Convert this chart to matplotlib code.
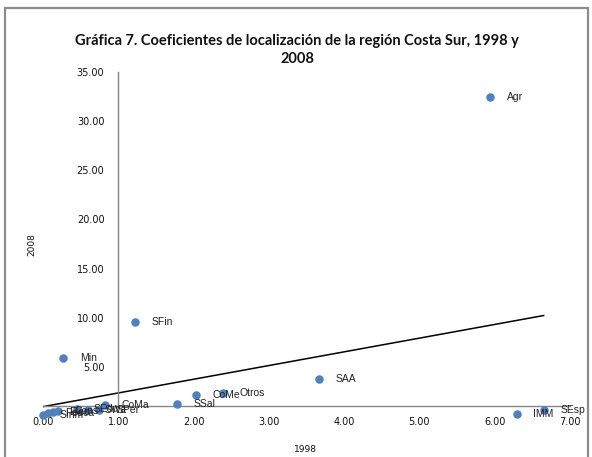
import matplotlib
matplotlib.use("Agg")
import matplotlib.pyplot as plt
from matplotlib.patches import Rectangle
import numpy as np

# location coefficients, Costa Sur region
sectors = ["Agr", "SFin", "Min", "SAA", "Otros", "CoMe", "SSal", "IMM", "SEsp", "CoMa",
           "SInm", "Pesca", "Elec", "Cons", "SEdu", "SWa", "SPer"]
coef_1998 = [5.94, 1.22, 0.27, 3.67, 2.39, 2.03, 1.78, 6.29, 6.65, 0.82,
             0.00, 0.07, 0.13, 0.20, 0.45, 0.60, 0.75]
coef_2008 = [32.45, 9.56, 5.90, 3.76, 2.34, 2.10, 1.22, 0.20, 0.60, 1.10,
             0.15, 0.30, 0.40, 0.50, 0.70, 0.65, 0.60]

x_ticks = [0, 1, 2, 3, 4, 5, 6, 7]
y_ticks = [5, 10, 15, 20, 25, 30, 35]

W, H = 592, 457
fig = plt.figure(figsize=(W / 100, H / 100), dpi=100)
ax = fig.add_axes([43 / W, 1 - 416 / H, (570 - 43) / W, (416 - 72) / H])

# chart frame
fig.patches.append(Rectangle((5 / W, -0.1), (588 - 5) / W, 1.1 - 8 / H,
                             transform=fig.transFigure, fill=False,
                             edgecolor="#8c8c8c", linewidth=1.6))

x = np.array(coef_1998)
y = np.array(coef_2008)
ax.scatter(x, y, s=26, color="#4F81BD", zorder=3, clip_on=False)

# linear trendline
slope, intercept = np.polyfit(x, y, 1)
xs = np.array([x.min(), x.max()])
ax.plot(xs, slope * xs + intercept, color="black", linewidth=1.1, zorder=2)

label_font = dict(family=["Liberation Sans", "DejaVu Sans"], fontsize=7.5, color="#222222")
for name, xi, yi in zip(sectors, coef_1998, coef_2008):
    ax.annotate(name, (xi, yi), xytext=(12, 0), textcoords="offset points",
                va="center", ha="left", annotation_clip=False, **label_font)

ax.set_xlim(0, 7)
ax.set_ylim(0, 35)
ax.set_xticks(x_ticks)
ax.set_xticklabels([f"{v:.2f}" for v in x_ticks])
ax.set_yticks(y_ticks)
ax.set_yticklabels([f"{v:.2f}" for v in y_ticks])

for side in ("top", "right"):
    ax.spines[side].set_visible(False)
ax.spines["left"].set_position(("data", 1))
ax.spines["bottom"].set_position(("data", 1))
ax.spines["left"].set_bounds(1, 35)
ax.spines["bottom"].set_bounds(0, 7)
for side in ("left", "bottom"):
    ax.spines[side].set_color("#868686")
    ax.spines[side].set_linewidth(1.0)

ax.tick_params(axis="both", length=0, labelsize=7, labelcolor="#111111")
ax.tick_params(axis="y", pad=10)
ax.tick_params(axis="x", pad=8)

fig.text(297 / W, 1 - 50 / H,
         "Gráfica 7. Coeficientes de localización de la región Costa Sur, 1998 y\n2008",
         ha="center", va="center", fontsize=10.5, fontweight="bold",
         family=["Lato", "DejaVu Sans"], color="#111111", linespacing=1.45)
fig.text(32 / W, 1 - 245 / H, "2008", rotation=90, ha="center", va="center",
         fontsize=6.5, color="#111111")
fig.text(305 / W, 1 - 449 / H, "1998", ha="center", va="center",
         fontsize=6.5, color="#111111")

fig.savefig("out.png", dpi=100)
